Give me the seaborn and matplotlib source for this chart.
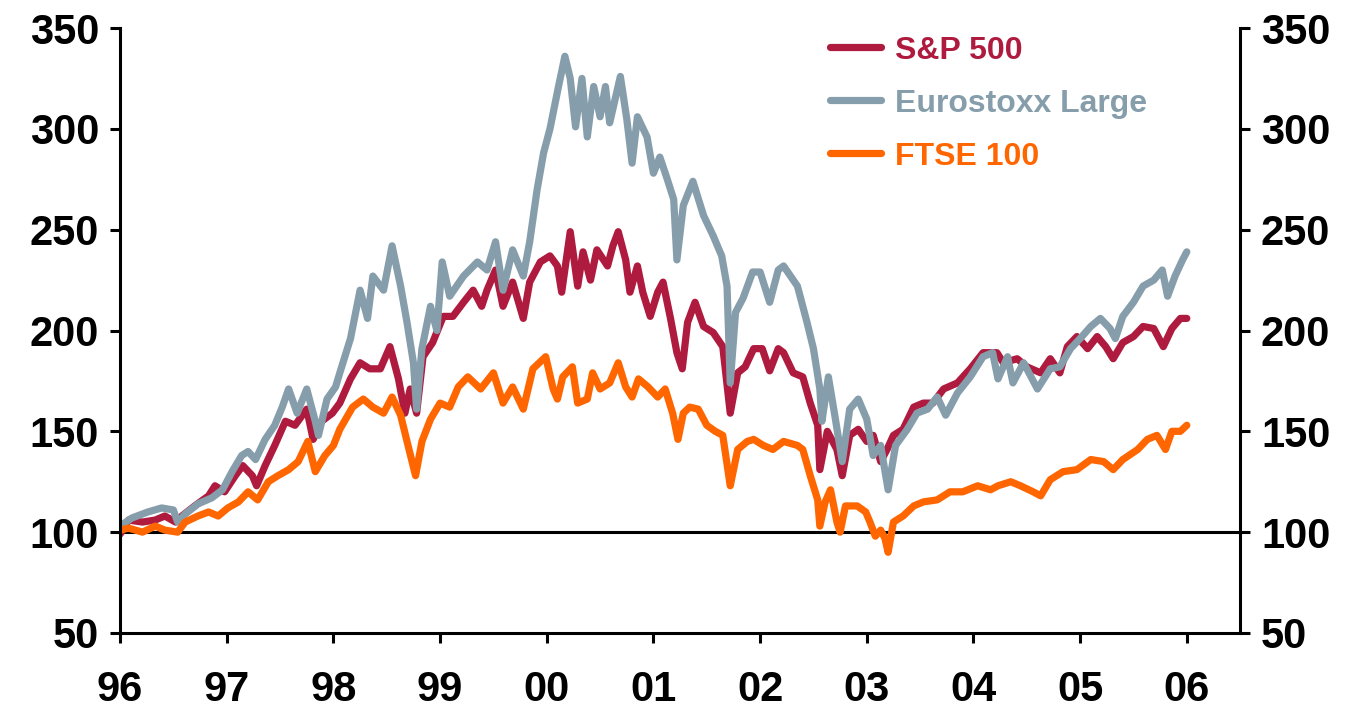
import numpy as np
import pandas as pd
import matplotlib
matplotlib.use("Agg")
import matplotlib.pyplot as plt
from matplotlib.lines import Line2D
import seaborn as sns

# ==============================
# Data (index, start of 1996 = 100)
# ==============================
sp_t = [1996.00, 1996.08, 1996.21, 1996.33, 1996.42, 1996.52, 1996.58, 1996.70, 1996.83, 1996.89,
        1996.98, 1997.08, 1997.15, 1997.24, 1997.28, 1997.36, 1997.45, 1997.55, 1997.64, 1997.75,
        1997.81, 1997.89, 1997.99, 1998.06, 1998.16, 1998.25, 1998.34, 1998.44, 1998.53, 1998.61,
        1998.67, 1998.72, 1998.78, 1998.84, 1998.93, 1999.03, 1999.12, 1999.22, 1999.31, 1999.39,
        1999.44, 1999.52, 1999.59, 1999.68, 1999.78, 1999.84, 1999.94, 2000.03, 2000.10, 2000.14,
        2000.22, 2000.29, 2000.34, 2000.41, 2000.47, 2000.57, 2000.62, 2000.67, 2000.74, 2000.78,
        2000.85, 2000.90, 2000.97, 2001.04, 2001.09, 2001.16, 2001.22, 2001.27, 2001.32, 2001.39,
        2001.47, 2001.56, 2001.65, 2001.72, 2001.79, 2001.86, 2001.94, 2002.02, 2002.09, 2002.17,
        2002.22, 2002.31, 2002.40, 2002.47, 2002.54, 2002.56, 2002.63, 2002.72, 2002.77, 2002.84,
        2002.92, 2003.00, 2003.06, 2003.13, 2003.19, 2003.25, 2003.34, 2003.44, 2003.53, 2003.62,
        2003.72, 2003.85, 2003.97, 2004.09, 2004.22, 2004.28, 2004.41, 2004.50, 2004.63, 2004.72,
        2004.81, 2004.88, 2004.97, 2005.07, 2005.16, 2005.24, 2005.31, 2005.40, 2005.50, 2005.59,
        2005.69, 2005.78, 2005.86, 2005.94, 2006.00]
sp_v = [99, 106, 105, 106, 108, 105, 108, 113, 118, 123,
        120, 128, 133, 128, 123, 133, 143, 155, 153, 161,
        146, 155, 159, 164, 176, 184, 181, 181, 192, 176,
        159, 171, 159, 187, 194, 207, 207, 214, 220, 212,
        220, 230, 212, 224, 206, 224, 234, 237, 232, 219,
        249, 222, 239, 225, 240, 232, 242, 249, 235, 219,
        232, 219, 207, 219, 224, 206, 189, 181, 204, 214,
        202, 199, 192, 159, 179, 182, 191, 191, 180, 191,
        189, 179, 177, 164, 153, 131, 150, 141, 128, 148,
        151, 145, 148, 135, 141, 148, 151, 162, 164, 164,
        171, 174, 181, 189, 189, 184, 186, 182, 179, 186,
        179, 192, 197, 191, 197, 192, 186, 194, 197, 202,
        201, 192, 201, 206, 206]

eu_t = [1996.00, 1996.11, 1996.26, 1996.39, 1996.50, 1996.54, 1996.61, 1996.73, 1996.86, 1996.96,
        1997.05, 1997.14, 1997.20, 1997.27, 1997.36, 1997.45, 1997.52, 1997.58, 1997.66, 1997.75,
        1997.83, 1997.86, 1997.94, 1998.02, 1998.06, 1998.16, 1998.25, 1998.32, 1998.37, 1998.47,
        1998.55, 1998.63, 1998.69, 1998.75, 1998.78, 1998.83, 1998.91, 1998.97, 1999.02, 1999.09,
        1999.22, 1999.35, 1999.44, 1999.52, 1999.59, 1999.68, 1999.78, 1999.84, 1999.91, 1999.97,
        2000.03, 2000.11, 2000.17, 2000.22, 2000.27, 2000.33, 2000.38, 2000.44, 2000.50, 2000.55,
        2000.59, 2000.69, 2000.75, 2000.80, 2000.85, 2000.94, 2001.00, 2001.06, 2001.13, 2001.19,
        2001.22, 2001.28, 2001.37, 2001.47, 2001.56, 2001.64, 2001.69, 2001.72, 2001.77, 2001.84,
        2001.93, 2002.00, 2002.09, 2002.17, 2002.22, 2002.35, 2002.44, 2002.50, 2002.56, 2002.58,
        2002.64, 2002.70, 2002.77, 2002.84, 2002.92, 2003.00, 2003.06, 2003.13, 2003.20, 2003.27,
        2003.38, 2003.47, 2003.57, 2003.66, 2003.74, 2003.85, 2003.97, 2004.09, 2004.18, 2004.23,
        2004.32, 2004.37, 2004.47, 2004.60, 2004.72, 2004.81, 2004.91, 2005.00, 2005.10, 2005.19,
        2005.28, 2005.33, 2005.40, 2005.50, 2005.59, 2005.69, 2005.77, 2005.82, 2005.89, 2005.96,
        2006.00]
eu_v = [103, 107, 110, 112, 111, 105, 109, 114, 117, 121,
        130, 138, 140, 136, 146, 153, 162, 171, 159, 171,
        155, 148, 166, 172, 179, 196, 220, 206, 227, 220,
        242, 222, 204, 184, 161, 191, 212, 200, 234, 217,
        227, 234, 230, 244, 220, 240, 227, 244, 270, 288,
        300, 321, 336, 325, 301, 325, 296, 321, 306, 321,
        303, 326, 305, 283, 306, 296, 278, 286, 275, 265,
        235, 262, 274, 257, 247, 237, 222, 174, 209, 216,
        229, 229, 214, 230, 232, 222, 204, 191, 171, 155,
        177, 158, 135, 161, 166, 156, 138, 143, 121, 143,
        151, 159, 161, 167, 158, 169, 177, 187, 189, 176,
        187, 174, 184, 171, 181, 182, 191, 196, 202, 206,
        201, 196, 207, 214, 222, 225, 230, 217, 227, 235,
        239]

ft_t = [1996.00, 1996.08, 1996.21, 1996.33, 1996.42, 1996.54, 1996.61, 1996.73, 1996.83, 1996.92,
        1997.01, 1997.11, 1997.20, 1997.29, 1997.39, 1997.48, 1997.58, 1997.67, 1997.76, 1997.83,
        1997.92, 1998.00, 1998.06, 1998.18, 1998.28, 1998.37, 1998.47, 1998.55, 1998.63, 1998.69,
        1998.77, 1998.83, 1998.91, 1999.00, 1999.09, 1999.17, 1999.26, 1999.38, 1999.50, 1999.59,
        1999.68, 1999.78, 1999.87, 1999.99, 2000.06, 2000.10, 2000.15, 2000.24, 2000.29, 2000.38,
        2000.43, 2000.50, 2000.59, 2000.67, 2000.74, 2000.80, 2000.86, 2000.95, 2001.04, 2001.11,
        2001.18, 2001.23, 2001.28, 2001.34, 2001.42, 2001.50, 2001.58, 2001.65, 2001.72, 2001.79,
        2001.88, 2001.94, 2002.03, 2002.12, 2002.22, 2002.35, 2002.40, 2002.47, 2002.54, 2002.56,
        2002.61, 2002.66, 2002.72, 2002.75, 2002.80, 2002.91, 2002.99, 2003.03, 2003.08, 2003.13,
        2003.17, 2003.20, 2003.25, 2003.34, 2003.44, 2003.53, 2003.66, 2003.78, 2003.90, 2004.04,
        2004.16, 2004.23, 2004.35, 2004.44, 2004.56, 2004.63, 2004.72, 2004.84, 2004.97, 2005.10,
        2005.22, 2005.31, 2005.40, 2005.54, 2005.63, 2005.72, 2005.80, 2005.86, 2005.94, 2006.00]
ft_v = [101, 102, 100, 103, 101, 100, 105, 108, 110, 108,
        112, 115, 120, 116, 125, 128, 131, 135, 145, 130,
        138, 143, 151, 162, 166, 162, 159, 167, 158, 145,
        128, 145, 156, 164, 162, 172, 177, 171, 179, 164,
        172, 161, 181, 187, 171, 166, 177, 182, 164, 166,
        179, 171, 174, 184, 172, 167, 176, 172, 167, 171,
        159, 146, 159, 162, 161, 153, 150, 148, 123, 141,
        145, 146, 143, 141, 145, 143, 141, 128, 116, 103,
        115, 121, 105, 100, 113, 113, 110, 105, 98, 101,
        97, 90, 105, 108, 113, 115, 116, 120, 120, 123,
        121, 123, 125, 123, 120, 118, 126, 130, 131, 136,
        135, 131, 136, 141, 146, 148, 141, 150, 150, 153]

names = ["S&P 500", "Eurostoxx Large", "FTSE 100"]
colors = ["#AF1B3E", "#869EAB", "#FF6600"]
year_ticks = list(range(1996, 2007))
year_labels = [f"{y % 100:02d}" for y in year_ticks]

df = pd.concat([
    pd.DataFrame({"year": sp_t, "value": sp_v, "index": names[0]}),
    pd.DataFrame({"year": eu_t, "value": eu_v, "index": names[1]}),
    pd.DataFrame({"year": ft_t, "value": ft_v, "index": names[2]}),
])

# ==============================
# Plot
# ==============================
sns.set_theme(style="white")
plt.rcParams["font.family"] = ["Liberation Sans", "DejaVu Sans"]
plt.rcParams["font.weight"] = "bold"

fig = plt.figure(figsize=(13.49, 7.17), dpi=100)
ax = fig.add_axes([0.089, 0.1172, 0.8303, 0.8437])

sns.lineplot(data=df, x="year", y="value", hue="index", hue_order=names,
             palette=dict(zip(names, colors)), linewidth=5.2, estimator=None,
             sort=False, legend=False, ax=ax)

ax.axhline(100, color="black", linewidth=2.2, zorder=1.5)

ax.set_xlim(1996, 2006.5)
ax.set_ylim(50, 350)
ax.set_xticks(year_ticks)
ax.set_xticklabels(year_labels)
ax.set_yticks(range(50, 351, 50))
ax.set_xlabel("")
ax.set_ylabel("")

for side in ["left", "right", "bottom"]:
    ax.spines[side].set_visible(True)
    ax.spines[side].set_color("black")
    ax.spines[side].set_linewidth(2.2)
ax.spines["top"].set_visible(False)

ax.tick_params(axis="both", direction="out", length=7, width=2.2,
               colors="black", labelsize=30)
ax.tick_params(axis="y", left=True, right=True, labelleft=True,
               labelright=True, pad=8)
ax.tick_params(axis="x", bottom=True, pad=20)
for lab in ax.get_xticklabels() + ax.get_yticklabels():
    lab.set_fontweight("bold")

handles = [Line2D([], [], color=c, linewidth=5.2, solid_capstyle="round")
           for c in colors]
ax.legend(handles, names, loc="upper left", bbox_to_anchor=(0.608, 1.035),
          frameon=False, prop={"weight": "bold", "size": 23},
          labelcolor=colors, handlelength=1.6, handletextpad=0.45,
          labelspacing=0.72)

fig.savefig("out.png", dpi=100)
